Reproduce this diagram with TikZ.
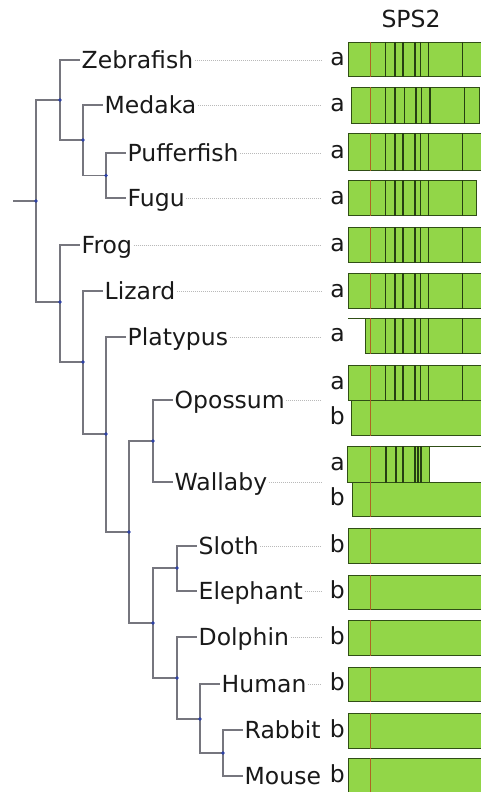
\documentclass[tikz,border=0pt]{standalone}
\usepackage{fontspec}
\setmainfont{DejaVu Sans}
\definecolor{branchc}{RGB}{118,118,126}
\definecolor{dotc}{RGB}{45,65,165}
\definecolor{guidec}{RGB}{185,185,185}
\definecolor{barc}{RGB}{146,214,72}
\definecolor{edgec}{RGB}{48,78,22}
\definecolor{redc}{RGB}{175,100,35}
\colorlet{textc}{black!90}

\begin{document}
\begin{tikzpicture}[x=1pt,y=-1pt,
  branch/.style={draw=branchc,line width=1.2pt},
  leaf/.style={anchor=west,inner xsep=1.5pt,inner ysep=0pt,text height=17pt,text depth=0pt,text=textc,font=\fontsize{23.5}{28}\selectfont},
  guide/.style={draw=guidec,line width=0.8pt,dash pattern=on 1pt off 1pt},
  bar/.style={anchor=north west,draw=edgec,fill=barc,line width=1pt,shape=rectangle,inner sep=0pt},
  edgeline/.style={draw=edgec,line width=1pt},
  tag/.style={anchor=east,inner sep=0pt,text height=12.8pt,text depth=0pt,text=textc,font=\fontsize{23.5}{28}\selectfont},
  stripe/.style={draw=edgec!80!black,line width=1.3pt},
  redline/.style={draw=redc,line width=1.3pt}]
\useasboundingbox (0,0) rectangle (481,792);

% tree
\coordinate (stub) at (13,201);
\coordinate (root) at (36,201);
\coordinate (fish) at (60,100);
\coordinate (medclade) at (83,140);
\coordinate (puffclade) at (106,175.5);
\coordinate (tetra) at (60,302);
\coordinate (amnio) at (83,362);
\coordinate (mammal) at (106,434);
\coordinate (theria) at (129,532);
\coordinate (marsup) at (153,441);
\coordinate (euth) at (153,623);
\coordinate (atlanto) at (177,568);
\coordinate (boreo) at (177,678);
\coordinate (euarch) at (200,719);
\coordinate (glires) at (223,753);

\node[leaf] (zebrafish) at (80,60) {Zebrafish};
\node[leaf] (medaka) at (103,105) {Medaka};
\node[leaf] (pufferfish) at (126,153) {Pufferfish};
\node[leaf] (fugu) at (126,198) {Fugu};
\node[leaf] (frog) at (80,245) {Frog};
\node[leaf] (lizard) at (103,291) {Lizard};
\node[leaf] (platypus) at (126,337) {Platypus};
\node[leaf] (opossum) at (173,400) {Opossum};
\node[leaf] (wallaby) at (173,482) {Wallaby};
\node[leaf] (sloth) at (197,546) {Sloth};
\node[leaf] (elephant) at (197,591) {Elephant};
\node[leaf] (dolphin) at (197,637) {Dolphin};
\node[leaf] (human) at (220,684) {Human};
\node[leaf] (rabbit) at (243,730) {Rabbit};
\node[leaf] (mouse) at (243,776) {Mouse};

\draw[branch] (stub) -- (root);
\foreach \p/\c in {root/fish,root/tetra,fish/zebrafish,fish/medclade,
    medclade/medaka,medclade/puffclade,puffclade/pufferfish,puffclade/fugu,
    tetra/frog,tetra/amnio,amnio/lizard,amnio/mammal,mammal/platypus,mammal/theria,
    theria/marsup,theria/euth,marsup/opossum,marsup/wallaby,euth/atlanto,euth/boreo,
    atlanto/sloth,atlanto/elephant,boreo/dolphin,boreo/euarch,euarch/human,euarch/glires,
    glires/rabbit,glires/mouse}
  \draw[branch] (\p) |- (\c);
\foreach \n in {root,fish,medclade,puffclade,tetra,amnio,mammal,theria,marsup,euth,atlanto,boreo,euarch,glires}
  \fill[dotc] (\n) circle (1.8pt);

% dotted guides
\coordinate (gend) at (321,0);
\foreach \n in {zebrafish,medaka,pufferfish,fugu,frog,lizard,platypus,opossum,wallaby,sloth,elephant,dolphin,human}
  \draw[guide] (\n.east) -- (\n.east -| gend);

% SPS2 bars
\node[leaf,anchor=center] (sps) at (411,19) {SPS2};
\node[bar,minimum width=135pt,minimum height=34pt] (zebA) at (348,42) {};
\node[bar,minimum width=128pt,minimum height=36pt] (medA) at (351,87) {};
\node[bar,minimum width=135pt,minimum height=37pt] (pufA) at (348,133) {};
\node[bar,minimum width=128pt,minimum height=35pt] (fugA) at (348,180) {};
\node[bar,minimum width=135pt,minimum height=35pt] (frgA) at (348,227) {};
\node[bar,minimum width=135pt,minimum height=35pt] (lizA) at (348,273) {};
\node[bar,minimum width=118pt,minimum height=35pt] (plaA) at (365,318) {};
\coordinate (plaL) at (348,335.5);
\node[bar,minimum width=135pt,minimum height=35pt] (opoA) at (348,365) {};
\node[bar,minimum width=132pt,minimum height=35pt] (opoB) at (351,400) {};
\node[bar,minimum width=82pt,minimum height=36pt] (walA) at (347,446) {};
\node[bar,minimum width=131pt,minimum height=34pt] (walB) at (352,482) {};
\node[bar,minimum width=135pt,minimum height=35pt] (sloB) at (348,528) {};
\node[bar,minimum width=135pt,minimum height=34pt] (eleB) at (348,575) {};
\node[bar,minimum width=135pt,minimum height=35pt] (dolB) at (348,620) {};
\node[bar,minimum width=135pt,minimum height=34pt] (humB) at (348,667) {};
\node[bar,minimum width=135pt,minimum height=35pt] (rabB) at (348,713) {};
\node[bar,minimum width=135pt,minimum height=40pt] (mouB) at (348,758) {};
\coordinate (mouL) at (348,776);

\draw[edgeline] (plaL |- plaA.north) -- (plaA.north west);
\draw[edgeline] (walA.north east) -- (walA.north east -| zebA.east);

\foreach \b in {zebA,pufA,fugA,frgA,lizA,plaA,opoA}
  \foreach \x in {385.5,395,403,415,420.5,428.3,462.7}
    \draw[stripe] (\x,0 |- \b.north) -- (\x,0 |- \b.south);
\foreach \x in {385.7,395,404.3,416,421.7,430,464.3}
  \draw[stripe] (\x,0 |- medA.north) -- (\x,0 |- medA.south);
\foreach \x in {386,396,403,415,418,421}
  \draw[stripe] (\x,0 |- walA.north) -- (\x,0 |- walA.south);

\foreach \b in {zebA,medA,pufA,fugA,frgA,lizA,plaA,sloB,eleB,dolB,humB,rabB,mouB}
  \draw[redline] (370.5,0 |- \b.north) -- (370.5,0 |- \b.south);
\draw[redline] (370.5,0 |- opoA.north) -- (370.5,0 |- opoB.south);
\draw[redline] (370.5,0 |- walA.north) -- (370.5,0 |- walB.south);

% a / b tags
\coordinate (tagcol) at (345,0);
\foreach \b in {zebA,medA,pufA,fugA,frgA,lizA,opoA,walA}
  \node[tag] (\b T) at (tagcol |- \b.west) {a};
\node[tag] (plaT) at (tagcol |- plaL) {a};
\foreach \b in {opoB,walB,sloB,eleB,dolB,humB,rabB}
  \node[tag] (\b T) at (tagcol |- \b.west) {b};
\node[tag] (mouT) at (tagcol |- mouL) {b};

\end{tikzpicture}
\end{document}
